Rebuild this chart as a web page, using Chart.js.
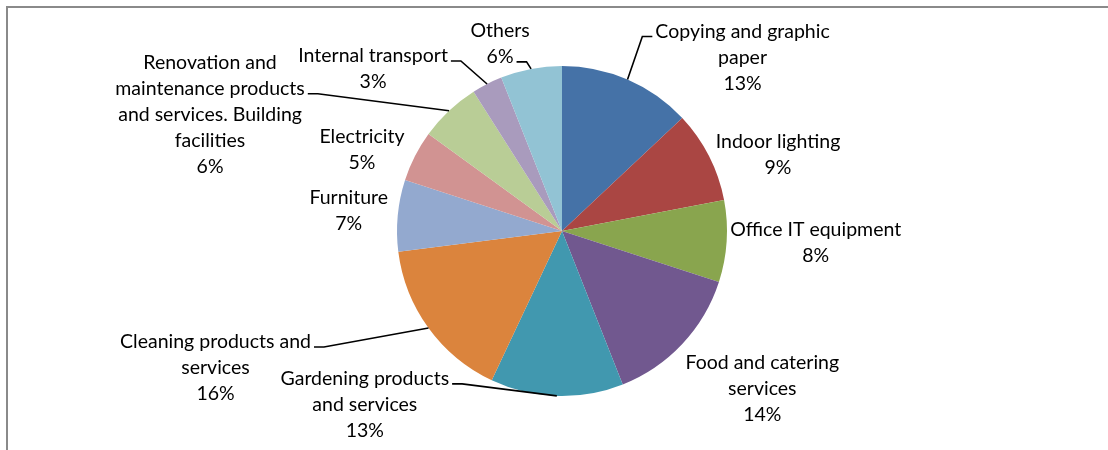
<!DOCTYPE html>
<html>
<head>
<meta charset="utf-8">
<script src="https://cdn.jsdelivr.net/npm/chart.js@4.4.0/dist/chart.umd.min.js"></script>
<style>
  body { margin: 0; background: #fff; }
  #wrap { position: relative; width: 1108px; height: 450px; overflow: hidden; }
  #frame { position: absolute; left: 6px; top: 6px; width: 1200px; height: 500px;
           border-top: 2px solid #8a8a8a; border-left: 2px solid #8a8a8a; }
  canvas { position: absolute; left: 0; top: 0; }
</style>
</head>
<body>
<div id="wrap">
  <div id="frame"></div>
  <canvas id="pie" width="1108" height="450"></canvas>
</div>
<script>
// categories (wrapped as they appear on the chart)
var categories = [
    ["Copying and graphic", "paper"],
    ["Indoor lighting"],
    ["Office IT equipment"],
    ["Food and catering", "services"],
    ["Gardening products", "and services"],
    ["Cleaning products and", "services"],
    ["Furniture"],
    ["Electricity"],
    ["Renovation and", "maintenance products", "and services. Building", "facilities"],
    ["Internal transport"],
    ["Others"]
];
var shares = [13, 9, 8, 14, 13, 16, 7, 5, 6, 3, 6];
var colors = ["#4572A7", "#AA4643", "#89A54E", "#71588F", "#4198AF", "#DB843D",
              "#93A9CF", "#D19392", "#B9CD96", "#A99BBD", "#92C3D4"];

// label placement relative to the slice's outer edge point (dx, dy to label centre)
// leader: which side of the label and which text line it hooks onto
var labelLayout = [
    { dx: 115, dy: -22, leader: { side: "left", line: 0 } },
    { dx: 69, dy: -1 },
    { dx: 89, dy: 1 },
    { dx: 80, dy: 45 },
    { dx: -192, dy: 9, leader: { side: "right", line: 0 } },
    { dx: -213, dy: 40, leader: { side: "right", line: 0 } },
    { dx: -49, dy: -5 },
    { dx: -53, dy: -6 },
    { dx: -239, dy: 4, leader: { side: "right", line: 1 } },
    { dx: -114, dy: -15, leader: { side: "right", line: 0 } },
    { dx: -31, dy: -25, leader: { side: "right", line: 1 } }
];

var FONT = "19.5px Lato";
var LINE_H = 26;

var pieLabels = {
    id: "pieLabels",
    afterDatasetsDraw: function (chart) {
        var ctx = chart.ctx;
        var meta = chart.getDatasetMeta(0);
        var data = chart.data.datasets[0].data;
        var total = data.reduce(function (a, b) { return a + b; }, 0);
        ctx.save();
        ctx.font = FONT;
        ctx.fillStyle = "#000";
        ctx.textAlign = "center";
        ctx.textBaseline = "middle";
        meta.data.forEach(function (arc, i) {
            var p = arc.getProps(["x", "y", "startAngle", "endAngle", "outerRadius"], true);
            var mid = (p.startAngle + p.endAngle) / 2;
            var ex = p.x + p.outerRadius * Math.cos(mid);
            var ey = p.y + p.outerRadius * Math.sin(mid);
            var lay = labelLayout[i];
            var cx = ex + lay.dx, cy = ey + lay.dy;
            var lines = categories[i].concat([Math.round(data[i] / total * 100) + "%"]);
            var y0 = cy - (lines.length - 1) / 2 * LINE_H;
            lines.forEach(function (t, k) {
                ctx.fillText(t, cx, y0 + k * LINE_H);
            });
            if (lay.leader) {
                var t = lines[lay.leader.line];
                var w = ctx.measureText(t).width;
                var ly = y0 + lay.leader.line * LINE_H + 5;
                var sx, bx;
                if (lay.leader.side === "left") {
                    sx = cx - w / 2 - 3;
                    bx = sx - 10;
                } else {
                    sx = cx + w / 2 + 3;
                    bx = sx + 10;
                }
                ctx.beginPath();
                ctx.strokeStyle = "#000";
                ctx.lineWidth = 1.6;
                ctx.moveTo(sx, ly);
                ctx.lineTo(bx, ly);
                ctx.lineTo(ex, ey);
                ctx.stroke();
            }
        });
        ctx.restore();
    }
};

var ctx = document.getElementById("pie").getContext("2d");
var chart = new Chart(ctx, {
    type: "pie",
    data: {
        labels: categories.map(function (c) { return c.join(" "); }),
        datasets: [{
            data: shares,
            backgroundColor: colors,
            borderWidth: 0
        }]
    },
    options: {
        responsive: false,
        animation: false,
        layout: { padding: { left: 397, right: 381, top: 66, bottom: 54 } },
        plugins: {
            legend: { display: false },
            tooltip: { enabled: false }
        }
    },
    plugins: [pieLabels]
});
</script>
</body>
</html>
